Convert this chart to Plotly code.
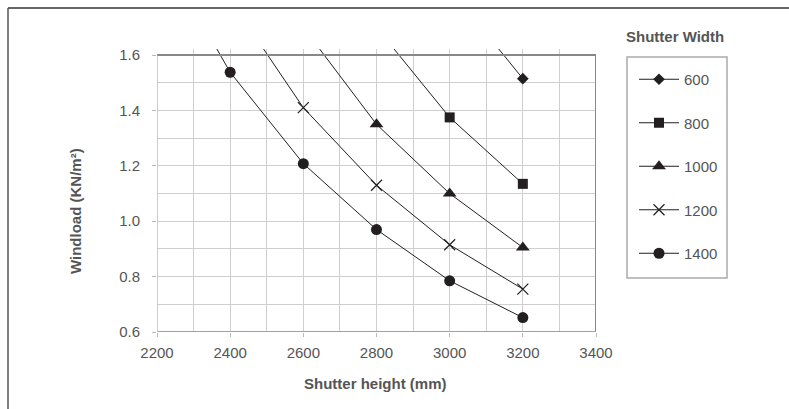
import plotly.graph_objects as go

# Data
heights = [2200, 2400, 2600, 2800, 3000, 3200]
widths = ["600", "800", "1000", "1200", "1400"]
w600 = [4.66, 3.60, 2.83, 2.26, 1.84, 1.515]
w800 = [3.50, 2.70, 2.12, 1.70, 1.375, 1.135]
w1000 = [2.80, 2.16, 1.70, 1.35, 1.10, 0.905]
w1200 = [2.33, 1.80, 1.41, 1.13, 0.915, 0.755]
w1400 = [2.00, 1.538, 1.208, 0.97, 0.785, 0.652]
series = [w600, w800, w1000, w1200, w1400]
symbols = ["diamond", "square", "triangle-up", "x-thin", "circle"]
sizes = [9, 10, 12, 11, 11]

xticks = [2200, 2400, 2600, 2800, 3000, 3200, 3400]
yticks = [0.6, 0.8, 1.0, 1.2, 1.4, 1.6]

FONT = "Liberation Sans, Arial, sans-serif"
INK = "#231f20"
TXT = "#555555"

W, H = 789, 409
L, R, T, B = 157, 193, 49, 77
pw, ph = W - L - R, H - T - B


def px(x):
    return (x - L) / pw


def py(y):
    return (H - B - y) / ph


fig = go.Figure()
for name, vals, sym, sz in zip(widths, series, symbols, sizes):
    fig.add_trace(go.Scatter(
        x=heights, y=vals, name=name, mode="lines+markers",
        legendgroup=name,
        line=dict(color=INK, width=1),
        marker=dict(symbol=sym, size=sz, color=INK,
                    line=dict(color=INK, width=1.2 if sym == "x-thin" else 0)),
    ))

grid = "#cfcfcf"
fig.update_xaxes(
    range=[2200, 3400], tickvals=xticks, ticktext=[str(v) for v in xticks],
    showgrid=True, gridcolor=grid, gridwidth=1.2,
    minor=dict(dtick=100, showgrid=True, gridcolor=grid, gridwidth=1.2, ticks=""),
    ticks="outside", ticklen=4, tickcolor="#bbbbbb", showline=False, zeroline=False,
    tickfont=dict(family=FONT, size=15, color=TXT), ticklabelstandoff=3,
)
fig.update_yaxes(
    range=[0.6, 1.622], tickvals=yticks, ticktext=["%.1f" % v for v in yticks],
    showgrid=True, gridcolor=grid, gridwidth=1.2,
    minor=dict(dtick=0.1, showgrid=True, gridcolor=grid, gridwidth=1.2, ticks=""),
    ticks="outside", ticklen=4, tickcolor="#bbbbbb", showline=False, zeroline=False,
    tickfont=dict(family=FONT, size=15, color=TXT), ticklabelstandoff=9,
)

shapes = [
    # plot frame
    dict(type="line", xref="x", yref="y", x0=2200, x1=3400, y0=1.6, y1=1.6,
         line=dict(color="#888888", width=2)),
    dict(type="line", xref="x", yref="y", x0=3400, x1=3400, y0=0.6, y1=1.6,
         line=dict(color="#888888", width=2)),
    dict(type="line", xref="x", yref="y", x0=2200, x1=3400, y0=0.6, y1=0.6,
         line=dict(color="#a0a0a0", width=2)),
    dict(type="line", xref="x", yref="y", x0=2200, x1=2200, y0=0.6, y1=1.6,
         line=dict(color="#bbbbbb", width=1.5)),
    # legend box
    dict(type="rect", xref="paper", yref="paper", x0=px(627), x1=px(727),
         y0=py(278), y1=py(57), line=dict(color="#aaaaaa", width=1.5)),
    # outer chart border (partially cropped)
    dict(type="line", xref="paper", yref="paper", x0=px(8), x1=px(800),
         y0=py(8), y1=py(8), line=dict(color="#333333", width=1.5)),
    dict(type="line", xref="paper", yref="paper", x0=px(8), x1=px(8),
         y0=py(8), y1=py(420), line=dict(color="#555555", width=1.5)),
]

annotations = [
    dict(text="Windload (KN/m²)", xref="paper", yref="paper", x=px(75), y=py(211),
         showarrow=False, textangle=-90, xanchor="center", yanchor="middle",
         font=dict(family=FONT, size=15, color=TXT, weight="bold")),
    dict(text="Shutter height (mm)", xref="paper", yref="paper", x=px(375), y=py(383),
         showarrow=False, xanchor="center", yanchor="middle",
         font=dict(family=FONT, size=15, color=TXT, weight="bold")),
    dict(text="Shutter Width", xref="paper", yref="paper", x=px(675), y=py(37),
         showarrow=False, xanchor="center", yanchor="middle",
         font=dict(family=FONT, size=15, color=TXT, weight="bold")),
]

fig.update_layout(
    width=W, height=H,
    margin=dict(l=L, r=R, t=T, b=B, pad=0),
    paper_bgcolor="white", plot_bgcolor="white",
    font=dict(family=FONT, size=15, color=TXT),
    shapes=shapes, annotations=annotations,
    showlegend=True,
    legend=dict(
        x=px(634), y=py(63), xanchor="left", yanchor="top",
        traceorder="grouped", tracegroupgap=21, itemwidth=40,
        borderwidth=0, bgcolor="rgba(0,0,0,0)",
        font=dict(family=FONT, size=15, color=TXT),
    ),
)

fig.write_html("out.html", config={"displayModeBar": False},
               post_script="document.body.style.margin='0';")
